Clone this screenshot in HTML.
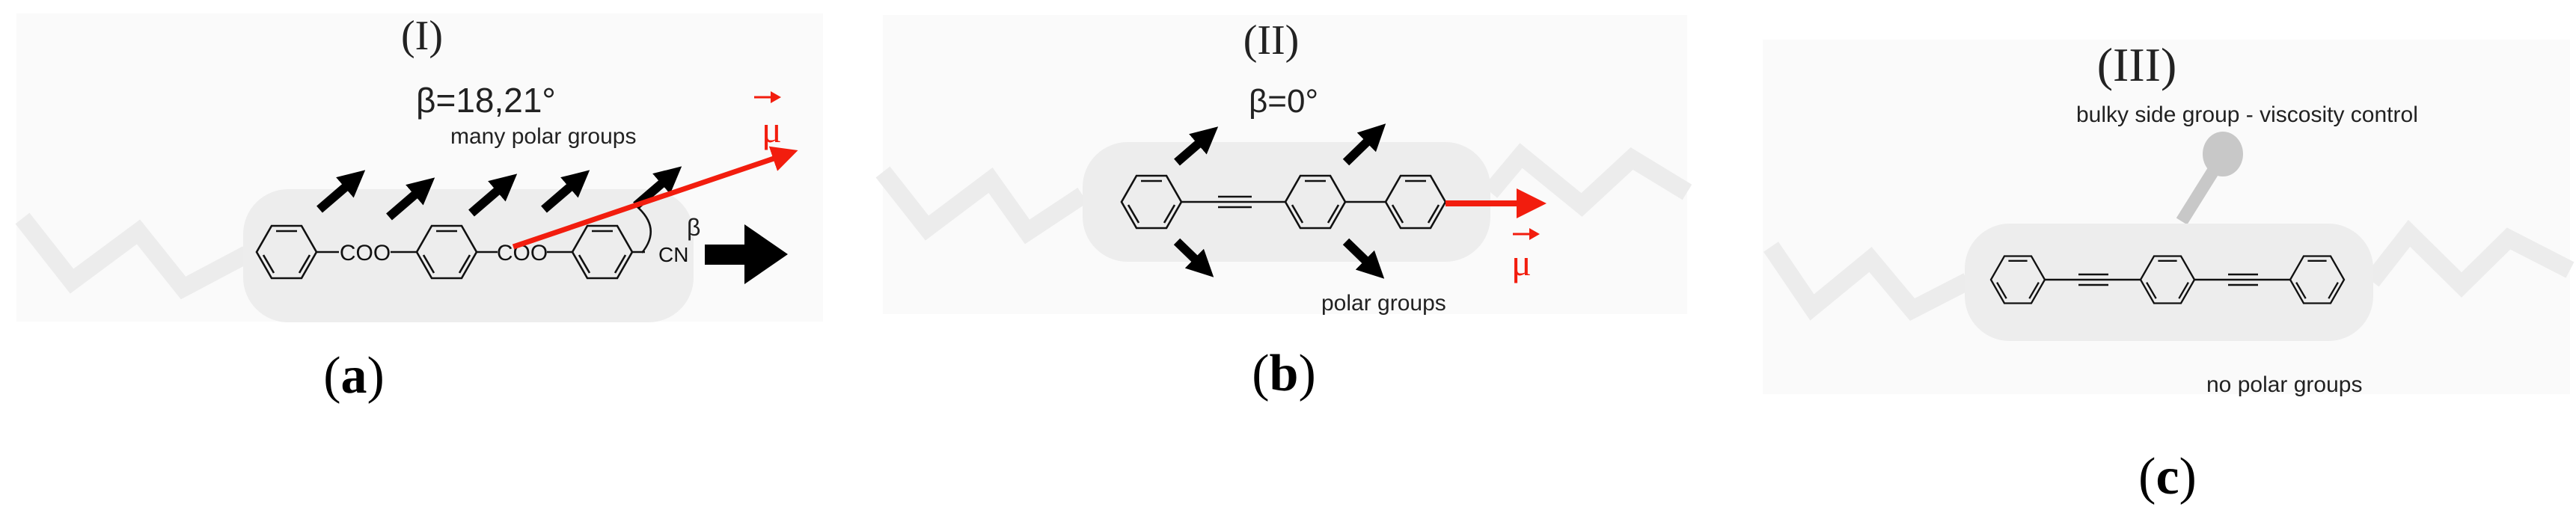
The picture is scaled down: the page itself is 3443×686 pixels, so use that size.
<!DOCTYPE html>
<html><head><meta charset="utf-8"><style>
html,body{margin:0;padding:0;background:#fff}
svg{display:block}
</style></head><body>
<svg width="3443" height="686" viewBox="0 0 3443 686" xmlns="http://www.w3.org/2000/svg">
<defs>
<g id="ring" fill="none" stroke="#111" stroke-width="2.6">
<polygon points="40,0 20,-35 -20,-35 -40,0 -20,35 20,35"/>
<line x1="-14" y1="-28" x2="14" y2="-28"/>
<line x1="31" y1="4" x2="17" y2="28"/>
<line x1="-31" y1="4" x2="-17" y2="28"/>
</g>
<marker id="bh" markerWidth="3" markerHeight="3" refX="1" refY="1.5" orient="auto" markerUnits="strokeWidth"><path d="M0,0 L3,1.5 L0,3 z" fill="#000"/></marker>
<marker id="rh" markerWidth="5" markerHeight="5" refX="1" refY="2.5" orient="auto" markerUnits="strokeWidth"><path d="M0,0 L5,2.5 L0,5 z" fill="#f21d0e"/></marker>
</defs>

<!-- Panel a -->
<rect x="22" y="18" width="1078" height="412" fill="#fafafa"/>
<polyline points="30,292 96,376 185,310 245,385 330,340" fill="none" stroke="#ececec" stroke-width="24" stroke-linejoin="miter"/>
<rect x="325" y="253" width="602" height="178" rx="60" fill="#ededed"/>
<text x="564" y="66" font-family="Liberation Serif,serif" font-size="56" text-anchor="middle" fill="#222">(I)</text>
<text x="556" y="150" font-family="Liberation Sans,sans-serif" font-size="46" fill="#222">β=18,21°</text>
<text x="602" y="192" font-family="Liberation Sans,sans-serif" font-size="30" fill="#222">many polar groups</text>
<use href="#ring" x="383" y="337"/>
<use href="#ring" x="597" y="337"/>
<use href="#ring" x="805" y="337"/>
<g stroke="#111" stroke-width="2.6">
<line x1="423" y1="337" x2="453" y2="337"/><line x1="522" y1="337" x2="557" y2="337"/>
<line x1="637" y1="337" x2="665" y2="337"/><line x1="731" y1="337" x2="765" y2="337"/>
<line x1="845" y1="337" x2="862" y2="337"/>
</g>
<text x="488" y="348" font-family="Liberation Sans,sans-serif" font-size="30" text-anchor="middle" fill="#111">COO</text>
<text x="698" y="348" font-family="Liberation Sans,sans-serif" font-size="30" text-anchor="middle" fill="#111">COO</text>
<text x="880" y="350" font-family="Liberation Sans,sans-serif" font-size="28" fill="#111">CN</text>
<text x="918" y="315" font-family="Liberation Sans,sans-serif" font-size="32" fill="#222">β</text>
<path d="M850,275 Q885,305 858,338" fill="none" stroke="#111" stroke-width="2.5"/>
<g stroke="#000" stroke-width="12" marker-end="url(#bh)">
<line x1="427" y1="280" x2="470" y2="243"/>
<line x1="520" y1="290" x2="563" y2="253"/>
<line x1="630" y1="285" x2="673" y2="248"/>
<line x1="727" y1="280" x2="770" y2="243"/>
<line x1="850" y1="275" x2="893" y2="238"/>
</g>
<line x1="686" y1="330" x2="1040" y2="210" stroke="#f21d0e" stroke-width="7" marker-end="url(#rh)"/>
<text x="1018" y="190" font-family="Liberation Serif,serif" font-size="50" fill="#f21d0e">μ</text>
<line x1="1008" y1="130" x2="1035" y2="130" stroke="#f21d0e" stroke-width="3"/><path d="M1030,122 L1044,130 L1030,138z" fill="#f21d0e"/>
<path d="M942,327 L995,327 L995,300 L1053,340 L995,380 L995,354 L942,354z" fill="#000"/>
<text x="473" y="525" font-family="Liberation Serif,serif" font-size="70" text-anchor="middle" fill="#000">(<tspan font-weight="bold">a</tspan>)</text>

<!-- Panel b -->
<rect x="1180" y="20" width="1075" height="400" fill="#fafafa"/>
<polyline points="1180,230 1239,305 1324,241 1373,310 1447,261" fill="none" stroke="#ececec" stroke-width="24"/>
<polyline points="1992,257 2033,208 2114,274 2181,212 2255,257" fill="none" stroke="#ececec" stroke-width="24"/>
<rect x="1447" y="190" width="545" height="160" rx="60" fill="#ededed"/>
<text x="1699" y="72" font-family="Liberation Serif,serif" font-size="56" text-anchor="middle" fill="#222">(II)</text>
<text x="1669" y="150" font-family="Liberation Sans,sans-serif" font-size="44" fill="#222">β=0°</text>
<use href="#ring" x="1539" y="270"/>
<use href="#ring" x="1758" y="270"/>
<use href="#ring" x="1892" y="270"/>
<g stroke="#111" stroke-width="2.6">
<line x1="1579" y1="270" x2="1718" y2="270"/>
<line x1="1628" y1="263" x2="1673" y2="263"/><line x1="1628" y1="277" x2="1673" y2="277"/>
<line x1="1798" y1="270" x2="1852" y2="270"/>
</g>
<g stroke="#000" stroke-width="12" marker-end="url(#bh)">
<line x1="1573" y1="217" x2="1610" y2="185"/>
<line x1="1799" y1="217" x2="1835" y2="182"/>
<line x1="1573" y1="323" x2="1605" y2="354"/>
<line x1="1799" y1="323" x2="1833" y2="356"/>
</g>
<line x1="1932" y1="272" x2="2035" y2="272" stroke="#f21d0e" stroke-width="8" marker-end="url(#rh)"/>
<text x="2020" y="368" font-family="Liberation Serif,serif" font-size="50" fill="#f21d0e">μ</text>
<line x1="2022" y1="313" x2="2048" y2="313" stroke="#f21d0e" stroke-width="3"/><path d="M2044,305 L2058,313 L2044,321z" fill="#f21d0e"/>
<text x="1766" y="415" font-family="Liberation Sans,sans-serif" font-size="30" fill="#222">polar groups</text>
<text x="1716" y="522" font-family="Liberation Serif,serif" font-size="70" text-anchor="middle" fill="#000">(<tspan font-weight="bold">b</tspan>)</text>

<!-- Panel c -->
<rect x="2356" y="53" width="1079" height="474" fill="#fafafa"/>
<polyline points="2367,330 2422,411 2500,347 2556,414 2630,376" fill="none" stroke="#ececec" stroke-width="24"/>
<polyline points="3170,376 3220,312 3290,381 3353,319 3435,361" fill="none" stroke="#ececec" stroke-width="24"/>
<line x1="2916" y1="296" x2="2971" y2="208" stroke="#c8c8c8" stroke-width="17"/>
<ellipse cx="2971" cy="206" rx="27" ry="30" fill="#c8c8c8"/>
<rect x="2626" y="299" width="546" height="157" rx="60" fill="#ededed"/>
<text x="2856" y="108" font-family="Liberation Serif,serif" font-size="64" text-anchor="middle" fill="#222">(III)</text>
<text x="2775" y="163" font-family="Liberation Sans,sans-serif" font-size="30" fill="#222">bulky side group - viscosity control</text>
<use href="#ring" x="2697" y="374" transform="translate(2697 374) scale(0.9) translate(-2697 -374)"/>
<use href="#ring" x="2897" y="374" transform="translate(2897 374) scale(0.9) translate(-2897 -374)"/>
<use href="#ring" x="3097" y="374" transform="translate(3097 374) scale(0.9) translate(-3097 -374)"/>
<g stroke="#111" stroke-width="2.6">
<line x1="2733" y1="374" x2="2861" y2="374"/>
<line x1="2778" y1="367" x2="2818" y2="367"/><line x1="2778" y1="381" x2="2818" y2="381"/>
<line x1="2933" y1="374" x2="3061" y2="374"/>
<line x1="2978" y1="367" x2="3018" y2="367"/><line x1="2978" y1="381" x2="3018" y2="381"/>
</g>
<text x="2949" y="524" font-family="Liberation Sans,sans-serif" font-size="30" fill="#222">no polar groups</text>
<text x="2897" y="660" font-family="Liberation Serif,serif" font-size="70" text-anchor="middle" fill="#000">(<tspan font-weight="bold">c</tspan>)</text>
</svg>
</body></html>
